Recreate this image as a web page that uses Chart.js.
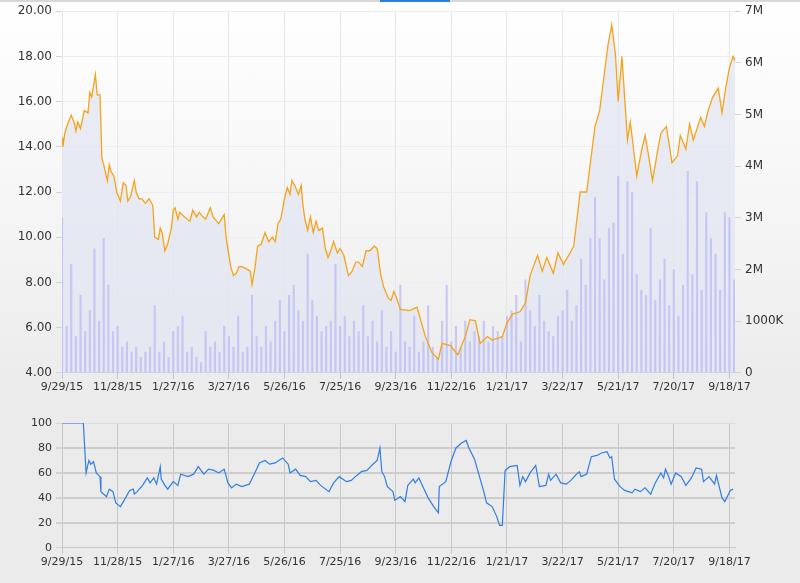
<!DOCTYPE html>
<html><head><meta charset="utf-8">
<script src="https://cdn.jsdelivr.net/npm/chart.js@4"></script>
<style>
html,body{margin:0;padding:0;width:800px;height:583px;overflow:hidden;font-family:"DejaVu Sans";}
#top{position:absolute;left:0;top:0;width:800px;height:396px;background:linear-gradient(#ffffff 0%,#f6f6f6 50%,#ebebeb 100%);}
#bot{position:absolute;left:0;top:396px;width:800px;height:187px;background:#ebebeb;}
#bar{position:absolute;left:0;top:0;width:800px;height:2px;background:#d8d8d8;}
#bar2{position:absolute;left:380px;top:0;width:70px;height:2px;background:#2a7de1;}
</style></head><body>
<div id="top"><canvas id="c1" width="800" height="396"></canvas></div>
<div id="bot"><canvas id="c2" width="800" height="187"></canvas></div>
<div id="bar"></div><div id="bar2"></div>
<script>
const tickLabels=["9/29/15","11/28/15","1/27/16","3/27/16","5/26/16","7/25/16","9/23/16","11/22/16","1/21/17","3/22/17","5/21/17","7/20/17","9/18/17"];
const priceDays=[0,1,3,6,10,13,15,17,20,24,28,30,32,36,38,41,43,45,49,51,53,56,59,63,66,69,71,74,78,80,83,86,90,94,98,100,104,106,108,111,114,118,120,122,125,127,132,138,141,145,148,152,155,160,163,169,175,177,180,182,185,188,191,194,199,203,205,208,211,215,219,223,227,230,233,236,240,243,246,248,251,255,258,260,262,265,268,271,274,277,281,284,287,290,293,297,300,304,309,313,317,320,324,328,332,337,340,344,347,352,355,358,361,365,375,383,392,399,406,410,419,427,435,440,446,451,459,464,475,480,486,494,500,505,513,518,523,530,535,541,548,552,559,566,570,575,580,584,589,593,597,600,604,610,613,616,620,625,629,632,637,642,646,652,658,664,667,673,677,681,685,689,693,697,702,708,712,716,720,724,726];
const price=[14.4,14.0,14.6,15.0,15.4,15.1,14.7,15.1,14.8,15.6,15.5,16.4,16.2,17.2,16.3,16.3,13.5,13.2,12.5,13.2,12.9,12.7,12.0,11.6,12.4,12.3,11.6,11.8,12.5,12.0,11.7,11.7,11.5,11.7,11.4,10.0,9.9,10.4,10.2,9.4,9.7,10.4,11.2,11.3,10.8,11.1,10.9,10.7,11.2,10.9,11.1,10.9,10.8,11.3,10.9,10.6,11.0,10.0,9.2,8.7,8.3,8.4,8.7,8.7,8.6,8.5,7.9,8.6,9.6,9.7,10.2,9.8,10.0,9.8,10.6,10.8,11.7,12.2,11.9,12.5,12.3,11.9,12.3,11.4,10.8,10.3,10.9,10.2,10.7,10.3,10.4,9.5,9.1,9.4,9.8,9.3,9.5,9.2,8.3,8.5,8.9,8.9,8.7,9.4,9.4,9.6,9.5,8.3,7.8,7.3,7.2,7.6,7.3,6.8,6.75,6.9,5.6,4.9,4.6,5.3,5.2,4.8,5.6,6.35,6.3,5.3,5.6,5.45,5.6,6.2,6.6,6.7,7.1,8.3,9.2,8.5,9.1,8.4,9.3,8.8,9.3,9.6,12.0,12.0,13.3,14.9,15.6,16.9,18.5,19.4,18.1,16.0,18.0,14.3,15.1,14.1,12.7,13.8,14.5,13.8,12.5,13.7,14.6,14.9,13.3,13.6,14.5,13.9,15.0,14.3,14.8,15.3,14.9,15.6,16.2,16.6,15.5,16.6,17.5,18.0,17.8];
const volStepDays=5;
const volume=[3.0,0.9,2.1,0.7,1.5,0.8,1.2,2.4,1.0,2.6,
1.7,0.8,0.9,0.5,0.6,0.4,0.5,0.3,0.4,0.5,
1.3,0.4,0.6,0.3,0.8,0.9,1.1,0.4,0.5,0.3,
0.2,0.8,0.5,0.6,0.4,0.9,0.7,0.5,1.1,0.4,
0.5,1.5,0.7,0.5,0.9,0.6,1.0,1.4,0.8,1.5,
1.7,1.2,1.0,2.3,1.4,1.1,0.8,0.9,1.0,2.1,
0.9,1.1,0.7,1.0,0.8,1.3,0.7,1.0,0.6,1.2,
0.5,0.8,0.4,1.7,0.6,0.5,1.1,0.4,0.6,1.3,
0.5,0.3,1.0,1.7,0.6,0.9,0.5,1.0,0.6,0.8,
0.7,1.0,0.6,0.9,0.8,0.7,1.1,1.2,1.5,0.6,
1.8,1.2,0.9,1.5,1.0,0.8,0.7,1.1,1.2,1.6,
1.0,1.3,2.2,1.7,2.6,3.4,2.6,1.8,2.8,2.9,
3.8,2.3,3.7,3.5,1.9,1.6,1.5,2.8,1.4,1.8,
2.2,1.3,2.0,1.1,1.7,3.9,1.9,3.7,1.6,3.1,
2.6,2.3,1.6,3.1,3.0,1.8];
const rsiDays=[0,23,26,29,31,34,37,41,42,48,51,55,58,63,67,73,77,78,81,87,92,95,99,102,106,107,111,114,120,125,128,136,142,147,153,158,164,169,175,179,183,188,194,202,208,213,219,224,230,238,244,246,252,257,263,268,274,279,288,293,299,307,312,318,323,329,334,340,343,345,348,351,357,359,365,370,373,379,381,385,390,395,401,406,407,414,420,425,431,436,439,445,450,455,458,464,469,472,475,478,483,491,494,497,500,505,511,515,522,525,527,533,538,544,549,555,558,560,566,571,577,582,588,591,593,596,602,607,615,618,624,629,635,640,646,649,651,654,657,662,668,673,679,684,690,692,698,704,706,712,715,721,724];
const rsi=[100,100,60,70,67,69,60,57,45,41,47,45,36,33,38,46,47,43,45,50,56,52,56,51,65,55,50,47,53,50,59,57,59,65,59,63,62,60,63,52,48,51,49,51,60,68,70,67,68,72,67,60,63,58,57,53,54,50,45,52,57,53,54,58,61,62,66,70,80,61,57,49,45,38,41,37,50,55,52,56,48,40,33,28,49,53,70,80,84,86,80,71,58,45,36,33,25,18,18,62,65,66,50,57,53,60,66,49,50,59,54,59,52,51,54,59,61,57,59,73,74,76,77,72,73,55,49,46,44,47,45,48,43,52,60,56,63,58,51,60,57,50,56,64,63,53,57,51,58,40,37,46,47];
const priceTicks=[4,6,8,10,12,14,16,18,20];

const pricePts=priceDays.map((d,i)=>({x:d,y:price[i]}));
const volPts=volume.map((v,i)=>({x:i*volStepDays,y:v}));
const rsiPts=rsiDays.map((d,i)=>({x:d,y:rsi[i]}));
const tickFont={family:"DejaVu Sans",size:11};
const xAxis=()=>({type:'linear',min:0,max:726,offset:false,
  afterBuildTicks:s=>{s.ticks=tickLabels.map((_,i)=>({value:i*60}));},
  afterFit:s=>{s.paddingLeft=0;s.paddingRight=0;},
  ticks:{callback:(v)=>tickLabels[Math.round(v/60)],color:'#333',font:tickFont,maxRotation:0,autoSkip:false,padding:2},
  grid:{color:'#e4e6ea',tickLength:6,tickColor:'#b9c6d6',offset:false},border:{color:'#c9d3df'}});

new Chart(document.getElementById('c1'),{
 data:{datasets:[
  {type:'line',data:pricePts,yAxisID:'y',borderColor:'#f5a31a',borderWidth:1.3,pointRadius:0,fill:false,order:1,tension:0},
  {type:'bar',data:volPts,yAxisID:'y2',backgroundColor:'rgba(175,175,245,0.6)',barThickness:1.5,grouped:false,order:2},
  {type:'line',data:pricePts,yAxisID:'y',borderWidth:0,pointRadius:0,fill:'start',backgroundColor:'rgba(225,230,242,0.75)',order:3,tension:0}
 ]},
 options:{responsive:false,animation:false,events:[],
  layout:{padding:{top:5,bottom:0,left:0,right:0}},
  plugins:{legend:{display:false},tooltip:{enabled:false}},
  scales:{
   x:xAxis(),
   y:{position:'left',min:4,max:20,afterBuildTicks:s=>{s.ticks=priceTicks.map(v=>({value:v}));},afterFit:s=>{s.width=62;},
      ticks:{callback:v=>v.toFixed(2),color:'#333',font:{family:"DejaVu Sans",size:12},padding:4},
      grid:{color:'#eceef2',tickLength:6,tickColor:'#c9d6e6'},border:{display:false}},
   y2:{position:'right',min:0,max:7,afterFit:s=>{s.width=65;},
      ticks:{stepSize:1,callback:v=>v===0?'0':(v===1?'1000K':v+'M'),color:'#333',font:{family:"DejaVu Sans",size:12},padding:4},
      grid:{drawOnChartArea:false,tickLength:6,tickColor:'#c9d6e6'},border:{display:false}}
  }}
});

new Chart(document.getElementById('c2'),{
 type:'line',
 data:{datasets:[{data:rsiPts,borderColor:'#2f7ee0',borderWidth:1.2,pointRadius:0,fill:false,tension:0}]},
 options:{responsive:false,animation:false,events:[],
  layout:{padding:{top:27,bottom:12,left:0,right:65}},
  plugins:{legend:{display:false},tooltip:{enabled:false}},
  scales:{
   x:Object.assign(xAxis(),{grid:{color:'#c8c8c8',tickLength:6,tickColor:'#c8c8c8'},border:{color:'#c8c8c8'}}),
   y:{min:0,max:100,afterFit:s=>{s.width=62;},
      ticks:{stepSize:20,color:'#333',font:tickFont,padding:4},
      grid:{color:(c)=>c.tick.value===0||c.tick.value===100?'#d6dde6':'#cdcdcd',lineWidth:(c)=>c.tick.value===0||c.tick.value===100?1:2,tickLength:6,tickColor:'#c8d4e2'},border:{display:false}}
  }}
});
</script></body></html>
